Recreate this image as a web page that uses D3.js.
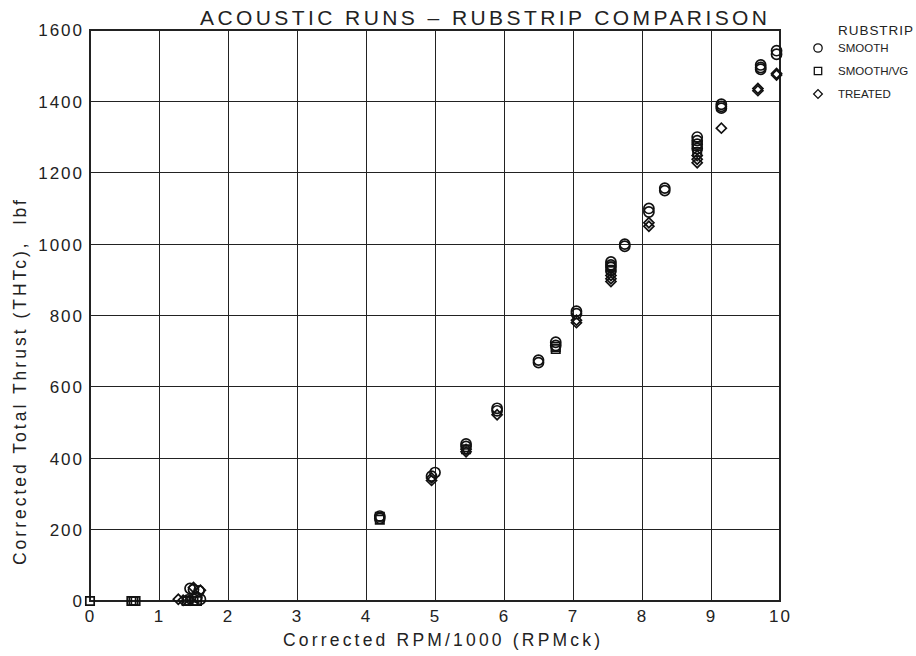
<!DOCTYPE html>
<html>
<head>
<meta charset="utf-8">
<script src="https://cdn.jsdelivr.net/npm/d3@7"></script>
<style>
  html, body { margin: 0; padding: 0; background: #fff; }
  svg { display: block; font-family: "Liberation Sans", "DejaVu Sans", sans-serif; }
</style>
</head>
<body>
<svg id="chart" width="916" height="656"></svg>
<script>
// Corrected RPM/1000 and corrected total thrust (lbf) per rubstrip configuration
const smoothRpm    = [1.45, 1.50, 1.55, 1.60, 1.58, 1.42, 4.20, 4.20, 4.95, 5.00, 5.45, 5.45, 5.90, 5.90, 6.50, 6.50, 6.75, 6.75, 7.05, 7.05, 7.55, 7.55, 7.55, 7.55, 7.75, 7.75, 8.10, 8.10, 8.33, 8.33, 8.80, 8.80, 8.80, 8.80, 9.15, 9.15, 9.15, 9.72, 9.72, 9.72, 9.95, 9.95];
const smoothThrust = [35, 32, 10, 5, 28, 3, 238, 232, 350, 360, 440, 433, 540, 533, 675, 668, 725, 716, 812, 805, 950, 942, 935, 925, 1000, 994, 1100, 1090, 1157, 1150, 1300, 1290, 1280, 1268, 1392, 1386, 1381, 1502, 1495, 1490, 1542, 1532];

const vgRpm    = [0.00, 0.60, 0.63, 0.66, 1.40, 1.50, 1.55, 4.20, 4.20, 5.45, 6.75, 6.75, 7.55, 7.55, 8.80, 8.80];
const vgThrust = [0, 0, 0, 0, 0, 0, 0, 236, 228, 425, 706, 712, 938, 928, 1275, 1258];

const treatedRpm    = [1.28, 1.35, 1.45, 1.50, 1.60, 4.95, 4.95, 5.45, 5.45, 5.90, 7.05, 7.05, 7.55, 7.55, 7.55, 8.10, 8.10, 8.80, 8.80, 8.80, 9.15, 9.68, 9.68, 9.95, 9.95];
const treatedThrust = [5, 2, 3, 38, 30, 338, 345, 418, 425, 522, 787, 780, 912, 903, 895, 1060, 1050, 1248, 1238, 1228, 1325, 1436, 1430, 1478, 1474];

const xTicks = [0, 1, 2, 3, 4, 5, 6, 7, 8, 9, 10];
const yTicks = [0, 200, 400, 600, 800, 1000, 1200, 1400, 1600];

const seriesNames = ["SMOOTH", "SMOOTH/VG", "TREATED"];
// circle, square, and a square turned 45° for the diamond
const seriesSymbols = [d3.symbolCircle, d3.symbolSquare, d3.symbolSquare];
const seriesRotate = [0, 0, 45];
const seriesSize = [80, 70, 50];

const svg = d3.select("#chart");
const plotLeft = 90, plotRight = 780, plotTop = 30, plotBottom = 601;

const x = d3.scaleLinear().domain([0, 10]).range([plotLeft, plotRight]);
const y = d3.scaleLinear().domain([0, 1600]).range([plotBottom, plotTop]);

// grid
const grid = svg.append("g").attr("stroke", "#222").attr("stroke-width", 1).attr("shape-rendering", "crispEdges");
grid.selectAll(".vx").data(xTicks.slice(1, -1)).join("line")
  .attr("x1", d => x(d)).attr("x2", d => x(d)).attr("y1", plotTop).attr("y2", plotBottom);
grid.selectAll(".hy").data(yTicks.slice(1, -1)).join("line")
  .attr("x1", plotLeft).attr("x2", plotRight).attr("y1", d => y(d)).attr("y2", d => y(d));

// frame
svg.append("rect").attr("x", plotLeft).attr("y", plotTop).attr("width", plotRight - plotLeft).attr("height", plotBottom - plotTop)
  .attr("fill", "none").attr("stroke", "#222").attr("stroke-width", 1.2).attr("shape-rendering", "crispEdges");

// axes (labels only; frame drawn above)
const xAxis = svg.append("g").attr("transform", `translate(0,${plotBottom})`)
  .call(d3.axisBottom(x).tickValues(xTicks).tickSize(0).tickPadding(9).tickFormat(d3.format("d")));
const yAxis = svg.append("g").attr("transform", `translate(${plotLeft},0)`)
  .call(d3.axisLeft(y).tickValues(yTicks).tickSize(0).tickPadding(6).tickFormat(d3.format("d")));
[xAxis, yAxis].forEach(g => {
  g.select(".domain").remove();
  g.selectAll("text").attr("font-size", 17).attr("fill", "#222")
    .attr("font-family", "'Liberation Sans', sans-serif").style("letter-spacing", "2px");
});
yAxis.selectAll("text").attr("dy", "0.35em");

// markers
function drawSeries(rpm, thrust, idx) {
  const sym = d3.symbol().type(seriesSymbols[idx]).size(seriesSize[idx]);
  svg.append("g").selectAll("path").data(rpm.map((r, i) => [r, thrust[i]])).join("path")
    .attr("transform", d => `translate(${x(d[0])},${y(d[1])}) rotate(${seriesRotate[idx]})`)
    .attr("d", sym)
    .attr("fill", "none").attr("stroke", "#111").attr("stroke-width", 1.7);
}
drawSeries(smoothRpm, smoothThrust, 0);
drawSeries(vgRpm, vgThrust, 1);
drawSeries(treatedRpm, treatedThrust, 2);

// title
svg.append("text").attr("x", 200).attr("y", 25)
  .attr("textLength", 567).attr("lengthAdjust", "spacing")
  .attr("font-size", 21).attr("fill", "#222").text("ACOUSTIC RUNS – RUBSTRIP COMPARISON");

// axis titles
svg.append("text").attr("x", 283).attr("y", 646)
  .attr("textLength", 317).attr("lengthAdjust", "spacing")
  .attr("font-size", 17.5).attr("fill", "#222")
  .text("Corrected RPM/1000 (RPMck)");
svg.append("text").attr("transform", "translate(26,565) rotate(-90)")
  .attr("textLength", 365).attr("lengthAdjust", "spacing")
  .attr("font-size", 17.5).attr("fill", "#222")
  .attr("xml:space", "preserve")
  .text("Corrected Total Thrust (THTc),  lbf");

// legend
const legend = svg.append("g");
legend.append("text").attr("x", 838).attr("y", 35).attr("textLength", 75).attr("lengthAdjust", "spacing")
  .attr("font-size", 13.5).attr("fill", "#222").text("RUBSTRIP");
seriesNames.forEach((name, i) => {
  const ly = 48 + i * 23;
  legend.append("path").attr("transform", `translate(818,${ly}) rotate(${seriesRotate[i]})`)
    .attr("d", d3.symbol().type(seriesSymbols[i]).size(i === 2 ? 38 : 55))
    .attr("fill", "none").attr("stroke", "#111").attr("stroke-width", 1.3);
  legend.append("text").attr("x", 838).attr("y", ly + 4).attr("font-size", 11.5).attr("fill", "#222").text(name);
});
</script>
</body>
</html>
